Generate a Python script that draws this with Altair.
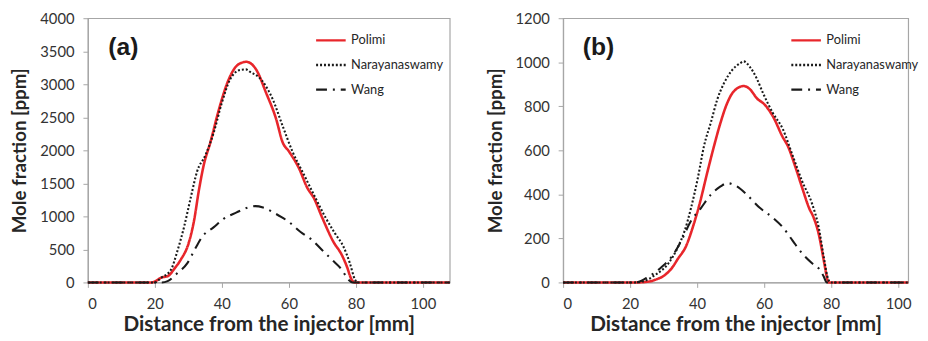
import altair as alt
import pandas as pd

series_names = ["Polimi", "Narayanaswamy", "Wang"]
series_colors = ["#e8262b", "#1a1a1a", "#1a1a1a"]
series_dash = [[1, 0], [2, 2], [11, 6, 2, 6]]

# Panel (a)
a_polimi_x = [0, 10, 19, 20, 22, 23.8, 26, 27.7, 30.2, 31.7, 33.1, 34.6, 36.6, 39, 42, 44.9, 47.4, 48.5,
              50.3, 53.2, 56.2, 58.1, 60.1, 63, 65.5, 67.4, 69.9, 73.3, 75.8, 77.3, 78.7, 79.6, 90, 108]
a_polimi_y = [0, 0, 0, 15, 75, 94, 220, 342, 614, 937, 1383, 1780, 2126, 2597, 3068, 3300, 3340, 3320,
              3217, 2870, 2473, 2126, 1978, 1730, 1432, 1283, 986, 614, 416, 242, 45, 0, 0, 0]
a_nara_x = [0, 10, 20, 21.9, 24.8, 26.8, 28.7, 30.7, 32.6, 35.1, 37.6, 40, 42.4, 45.4, 47.2, 48.3,
            51.8, 55.2, 58.1, 61.1, 64.5, 67.9, 70.9, 73.8, 76.3, 78.2, 79.7, 80.5, 90, 108]
a_nara_y = [0, 0, 0, 70, 193, 490, 837, 1283, 1680, 1928, 2275, 2721, 3068, 3216, 3225, 3192,
            3068, 2770, 2374, 1978, 1631, 1283, 986, 739, 540, 292, 45, 0, 0, 0]
a_wang_x = [0, 10, 22, 23.8, 26.8, 29.7, 32.1, 34.1, 37.6, 40.5, 44.4, 47.8, 50, 52.3, 56.2, 60.1,
            63.5, 67, 69.9, 72.9, 75.8, 77.7, 79, 90, 108]
a_wang_y = [0, 0, 0, 20, 144, 293, 516, 689, 837, 962, 1060, 1135, 1155, 1135, 1036, 912,
            763, 639, 490, 342, 193, 45, 0, 0, 0]

# Panel (b)
b_polimi_x = [0, 10, 22, 25.6, 27.5, 30.4, 32.4, 34.3, 36.8, 38.7, 40.7, 43.1, 45.1, 47, 49, 50.9, 53.9,
              55.8, 57.8, 60.2, 62.6, 65.6, 67, 69.5, 71.4, 73.4, 74.8, 76.3, 77.8, 78.7, 79.2, 90, 103]
b_polimi_y = [0, 0, 0, 4, 12, 34, 64, 108, 168, 250, 354, 503, 622, 726, 815, 867, 892,
              877, 837, 807, 755, 659, 622, 517, 428, 339, 294, 220, 101, 27, 0, 0, 0]
b_nara_x = [0, 10, 21, 23.6, 27.5, 31.4, 34.3, 36.3, 38.2, 40.2, 42.1, 44.1, 46, 48, 50.4, 52.9, 53.9,
            55.8, 57.8, 59.7, 62.6, 65.6, 68.5, 71.4, 74.4, 76.3, 77.8, 79.2, 80, 90, 103]
b_nara_y = [0, 0, 0, 4, 34, 86, 161, 235, 339, 473, 622, 726, 830, 904, 963, 996, 1004,
            978, 926, 859, 770, 696, 577, 458, 354, 250, 116, 12, 0, 0, 0]
b_wang_x = [0, 10, 21.7, 25.6, 29.5, 32.4, 35.3, 38.2, 41.2, 44.1, 47, 49, 51.9, 54.8, 58.7, 62.6,
            65.6, 68.5, 71.4, 74.4, 76.3, 77.8, 78.7, 90, 103]
b_wang_y = [0, 0, 0, 27, 71, 116, 190, 280, 339, 399, 436, 451, 436, 399, 339, 294,
            250, 190, 131, 86, 64, 27, 0, 0, 0]

x_ticks = [0, 20, 40, 60, 80, 100]
a_y_ticks = [0, 500, 1000, 1500, 2000, 2500, 3000, 3500, 4000]
b_y_ticks = [0, 200, 400, 600, 800, 1000, 1200]


def frame(pairs):
    rows = []
    for name, xs, ys in pairs:
        for i, (x, y) in enumerate(zip(xs, ys)):
            rows.append({"series": name, "x": x, "y": y, "i": i})
    return pd.DataFrame(rows)


df_a = frame([("Polimi", a_polimi_x, a_polimi_y), ("Narayanaswamy", a_nara_x, a_nara_y),
              ("Wang", a_wang_x, a_wang_y)])
df_b = frame([("Polimi", b_polimi_x, b_polimi_y), ("Narayanaswamy", b_nara_x, b_nara_y),
              ("Wang", b_wang_x, b_wang_y)])

FONT = "Lato"
H = 268


def panel(df, xmax, ymax, yticks, label, width):
    legend = alt.Legend(
        title=None, orient="none", legendX=230, legendY=6, padding=0,
        symbolType="stroke", symbolSize=900, symbolStrokeWidth=2.4,
        labelFont=FONT, labelFontSize=13, labelColor="#262626", labelOffset=4,
        rowPadding=1,
    )
    lines = alt.Chart(df).mark_line(interpolate="monotone").encode(
        x=alt.X("x:Q", scale=alt.Scale(domain=[0, xmax], nice=False, zero=False),
                axis=alt.Axis(values=x_ticks, format="d", title="Distance from the injector [mm]")),
        y=alt.Y("y:Q", scale=alt.Scale(domain=[0, ymax], nice=False),
                axis=alt.Axis(values=yticks, format="d", title="Mole fraction [ppm]")),
        color=alt.Color("series:N", scale=alt.Scale(domain=series_names, range=series_colors),
                        legend=legend),
        strokeDash=alt.StrokeDash("series:N", scale=alt.Scale(domain=series_names, range=series_dash),
                                  legend=legend),
        strokeWidth=alt.condition(alt.datum.series == "Polimi", alt.value(2.6), alt.value(2.1)),
        order="i:Q",
    )
    txt = alt.Chart(pd.DataFrame({"t": [label]})).mark_text(
        font="Liberation Sans", fontSize=25, fontWeight="bold", color="#1a1a1a", align="center",
        baseline="middle",
    ).encode(text="t:N", x=alt.value(36), y=alt.value(29))
    return alt.layer(lines, txt).properties(width=width, height=H)


chart = alt.hconcat(
    panel(df_a, 108, 4000, a_y_ticks, "(a)", 367),
    panel(df_b, 103, 1200, b_y_ticks, "(b)", 350),
    spacing=30,
).resolve_scale(color="independent", strokeDash="independent").configure_view(
    stroke="#a6a6a6", strokeWidth=1.2
).configure_axis(
    grid=False, domainColor="#a6a6a6", tickColor="#a6a6a6", tickSize=5, domainWidth=1.2,
    labelFont=FONT, labelFontSize=15, labelColor="#333333",
    titleFont=FONT, titleFontWeight="bold", titleColor="#262626",
).configure_axisY(titlePadding=10, titleFontSize=19, labelPadding=9).configure_axisX(
    titlePadding=3, titleFontSize=21, labelPadding=9
).properties(
    padding={"left": 2, "top": 0, "right": 0, "bottom": 0}
)

chart.save("out.html", embed_options={"renderer": "svg", "actions": False})
